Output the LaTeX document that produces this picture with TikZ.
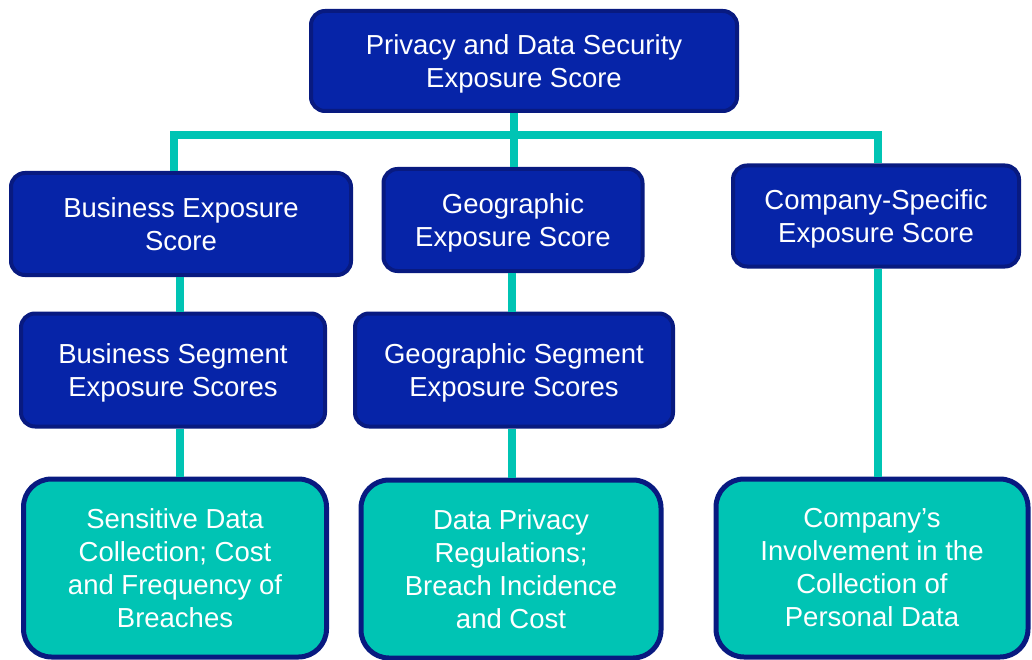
\documentclass[tikz,border=0pt]{standalone}
\usepackage{fontspec}
\setmainfont{Liberation Sans}
\usepackage{tikz}
\definecolor{BoxBlue}{RGB}{6,36,168}
\definecolor{RimBlue}{RGB}{8,26,128}
\definecolor{Teal}{RGB}{0,196,180}
\tikzset{scorebox/.style={draw=RimBlue,line width=4pt,fill=BoxBlue,text=white,
  rounded corners=14pt,align=center,inner sep=0pt,text depth=0pt,
  font=\fontsize{27.5}{33.5}\selectfont},
  factorbox/.style={draw=RimBlue,line width=5pt,fill=Teal,text=white,
  rounded corners=28pt,align=center,inner sep=0pt,
  minimum height=178pt,font=\fontsize{27.5}{33}\selectfont},
  link/.style={draw=Teal,line width=8pt}}

\begin{document}
\begin{tikzpicture}[x=1pt,y=-1pt]
\useasboundingbox (0,0) rectangle (1032,660);

\node[scorebox,minimum width=426pt,minimum height=100pt] (pds) at (524,61) {Privacy and Data Security\\Exposure Score};

\node[scorebox,minimum width=340pt,minimum height=102pt] (bes) at (181,224) {Business Exposure\\Score};
\node[scorebox,minimum width=259pt,minimum height=102pt] (ges) at (513,220) {Geographic\\Exposure Score};
\node[scorebox,minimum width=286pt,minimum height=101pt] (cses) at (876,216) {Company-Specific\\Exposure Score};

\node[scorebox,minimum width=304pt,minimum height=113pt] (bss) at (173,370) {Business Segment\\Exposure Scores};
\node[scorebox,minimum width=318pt,minimum height=113pt] (gss) at (514,370) {Geographic Segment\\Exposure Scores};

\node[factorbox,minimum width=303pt] (sdc) at (175,568) {Sensitive Data\\Collection; Cost\\and Frequency of\\Breaches};
\node[factorbox,minimum width=300pt] (dpr) at (511,569) {Data Privacy\\Regulations;\\Breach Incidence\\and Cost};
\node[factorbox,minimum width=312pt] (cip) at (872,568) {Company’s\\Involvement in the\\Collection of\\Personal Data};

\coordinate (hub) at (514,135);
\coordinate (jl) at (174,135);
\coordinate (jr) at (878,135);

\draw[link] (pds.south -| hub) -- (hub);
\draw[link] (bes.north -| jl) -- (jl) -- (jr) -- (jr |- cses.north);
\draw[link] (hub) -- (hub |- ges.north);

\draw[link] (bes.south -| 180,0) -- (bss.north -| 180,0);
\draw[link] (bss.south -| 180,0) -- (sdc.north -| 180,0);
\draw[link] (ges.south -| 512,0) -- (gss.north -| 512,0);
\draw[link] (gss.south -| 512,0) -- (dpr.north -| 512,0);
\draw[link] (cses.south -| jr) -- (jr |- cip.north);
\end{tikzpicture}
\end{document}
